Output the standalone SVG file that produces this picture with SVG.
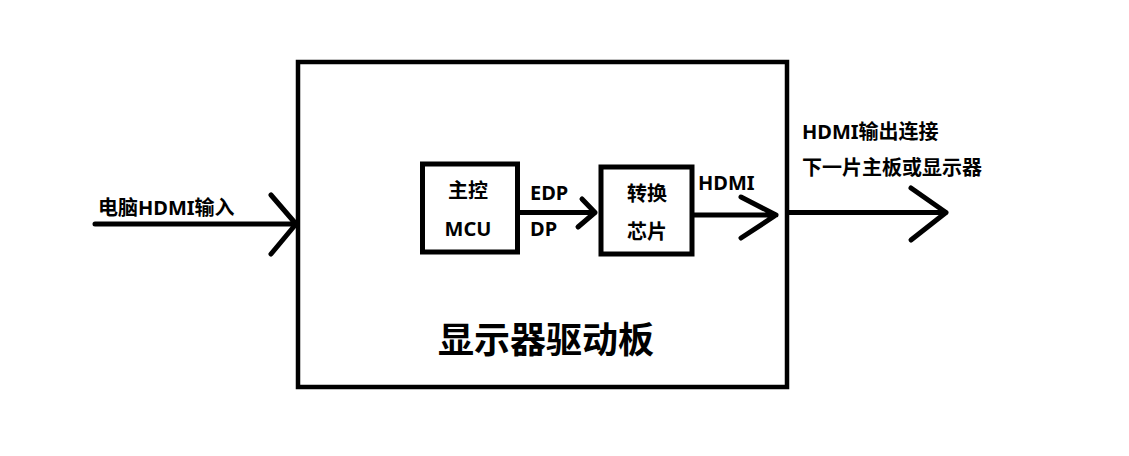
<svg xmlns="http://www.w3.org/2000/svg" width="1129" height="456" viewBox="0 0 1129 456">
<style>
.box{fill:none;stroke:#000;stroke-width:5}
.ln{fill:none;stroke:#000;stroke-width:5;stroke-linecap:round;stroke-linejoin:round}
text{font-family:"Noto Sans","Noto Sans CJK SC",sans-serif;font-weight:bold;font-size:20px;fill:#000}
.mid{text-anchor:middle}
</style>
<rect width="1129" height="456" fill="#fff"/>
<g id="board">
<rect class="box" x="298" y="62" width="489" height="325" style="stroke-width:4.5"/>
<text x="438" y="353" style="font-size:36px">显示器驱动板</text>
</g>
<g id="mcu">
<rect class="box" x="422.5" y="164" width="95" height="88"/>
<text class="mid" x="468" y="198">主控</text>
<text class="mid" x="468" y="236">MCU</text>
</g>
<g id="chip">
<rect class="box" x="601" y="167" width="91" height="87"/>
<text class="mid" x="647" y="201">转换</text>
<text class="mid" x="647" y="239">芯片</text>
</g>
<g id="connectors">
<path class="ln" d="M95 224H296M271 195L296 224L271 254"/>
<path class="ln" d="M518 212.5H595M582 199L595 212.5L578 227"/>
<path class="ln" d="M694 215H776M741 197L776 215L741 238"/>
<path class="ln" d="M789 212.5H946M911 188L946 212.5L911 240"/>
</g>
<g id="labels">
<text x="98" y="215">电脑HDMI输入</text>
<text x="530" y="200">EDP</text>
<text x="530" y="236">DP</text>
<text x="698" y="190">HDMI</text>
<text x="802" y="139">HDMI输出连接</text>
<text x="802" y="175">下一片主板或显示器</text>
</g>
</svg>
